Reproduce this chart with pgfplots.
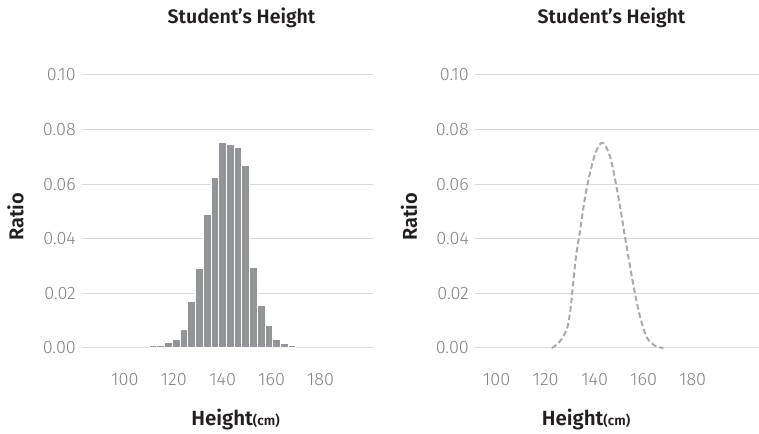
\documentclass[border=0pt]{standalone}
\usepackage{pgfplots}
\pgfplotsset{compat=1.18}
\usepackage{fontspec}
\setmainfont{Fira Sans}
\newfontfamily\lightfont{Fira Sans Light}
\newfontfamily\semifont{Fira Sans SemiBold}
\definecolor{bargray}{HTML}{939598}
\definecolor{curvegray}{HTML}{A7A9AC}
\definecolor{gridgray}{HTML}{D9D9D9}
\definecolor{tickgray}{HTML}{808285}
\definecolor{txt}{HTML}{231F20}
\pgfplotsset{
  myaxis/.style={
    scale only axis,
    anchor=south west,
    ymin=0, ymax=0.1,
    axis line style={draw=none},
    major tick length=0pt,
    ytick={0,0.02,0.04,0.06,0.08,0.1},
    xtick={100,120,140,160,180},
    ymajorgrids,
    grid style={gridgray, line width=1pt},
    /pgf/number format/assume math mode=true,
    yticklabel={\pgfmathprintnumber[fixed,fixed zerofill,precision=2]{\tick}},
    xticklabel={\pgfmathprintnumber[int detect]{\tick}},
    yticklabel style={anchor=east, inner sep=0pt, xshift=-6pt, font=\lightfont\fontsize{18}{20}\selectfont, text=tickgray},
    xticklabel style={anchor=center, inner sep=0pt, yshift=-32pt, font=\lightfont\fontsize{18}{20}\selectfont, text=tickgray},
    clip=false,
  }
}
\begin{document}
\begin{tikzpicture}
\path[use as bounding box] (0,0) rectangle (759pt,433pt);
% left: histogram
\begin{axis}[myaxis, at={(82pt,85pt)}, width=291pt, height=273pt, xmin=82.5, xmax=201.5]
\addplot[ybar interval, fill=bargray, draw=white, line width=1pt] coordinates {
(110.000,0.00086) (113.158,0.00086) (116.316,0.00196) (119.474,0.0031)
(122.632,0.0067) (125.789,0.0172) (128.947,0.0291) (132.105,0.0490)
(135.263,0.0626) (138.421,0.0752) (141.579,0.0745) (144.737,0.0736)
(147.895,0.0667) (151.053,0.0296) (154.211,0.0156) (157.368,0.0081)
(160.526,0.0031) (163.684,0.0018) (166.842,0.0010) (170.000,0.0010)
};
\end{axis}
% right: density curve
\begin{axis}[myaxis, at={(475pt,85pt)}, width=284pt, height=273pt, xmin=91.2, xmax=207.1]
\addplot[smooth, curvegray, line width=2pt, dash pattern=on 5.5pt off 3pt] coordinates {
(122.5,0.0000) (124.5,0.0012) (126.6,0.0033) (128.9,0.0076) (130.3,0.0150)
(131.1,0.0223) (132.4,0.0334) (134.1,0.0432) (135.7,0.0530) (137.5,0.0616)
(139.5,0.0690) (141.6,0.0739) (143.6,0.0751) (146.3,0.0702) (148.4,0.0616)
(150.4,0.0518) (152.4,0.0407) (154.5,0.0297) (156.5,0.0199) (158.6,0.0113)
(161.3,0.0039) (164.7,0.0008) (168.1,0.0000)
};
\end{axis}
% titles and labels
\node[txt, font=\semifont\fontsize{19.5}{22}\selectfont] at (241.5pt,415pt) {Student’s Height};
\node[txt, font=\semifont\fontsize{19.5}{22}\selectfont] at (611.5pt,415pt) {Student’s Height};
\node[txt, rotate=90, font=\semifont\fontsize{20}{22}\selectfont] at (15.5pt,216pt) {Ratio};
\node[txt, rotate=90, font=\semifont\fontsize{20}{22}\selectfont] at (409pt,216pt) {Ratio};
\node[txt, font=\semifont\fontsize{20.5}{23}\selectfont] at (235.5pt,13pt) {Height{\fontsize{13.5}{15}\selectfont(cm)}};
\node[txt, font=\semifont\fontsize{20.5}{23}\selectfont] at (586pt,13pt) {Height{\fontsize{13.5}{15}\selectfont(cm)}};
\end{tikzpicture}
\end{document}
